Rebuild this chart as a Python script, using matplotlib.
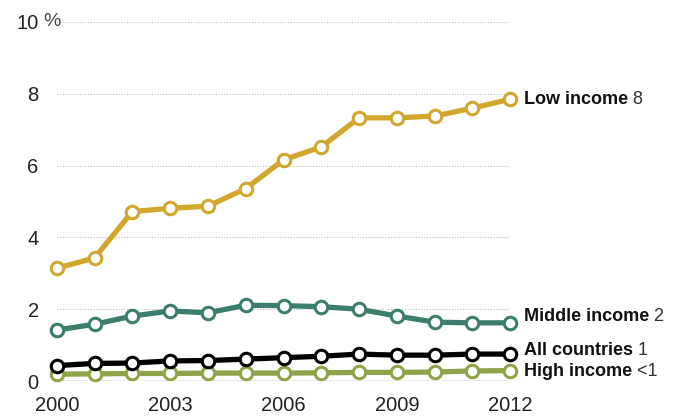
import matplotlib.pyplot as plt

years = list(range(2000, 2013))
low_income = [3.14, 3.43, 4.72, 4.81, 4.87, 5.36, 6.16, 6.52, 7.33, 7.33, 7.38, 7.60, 7.85]
middle_income = [1.42, 1.58, 1.81, 1.95, 1.90, 2.11, 2.10, 2.07, 2.00, 1.81, 1.64, 1.62, 1.62]
all_countries = [0.43, 0.49, 0.50, 0.56, 0.57, 0.61, 0.65, 0.69, 0.75, 0.72, 0.72, 0.75, 0.75]
high_income = [0.19, 0.20, 0.21, 0.21, 0.22, 0.22, 0.22, 0.23, 0.24, 0.24, 0.25, 0.28, 0.29]

series = [
    ("High income", "<1", high_income, "#8fa348", 0.26),
    ("All countries", "1", all_countries, "#000000", 0.84),
    ("Middle income", "2", middle_income, "#3c7e6e", 1.81),
    ("Low income", "8", low_income, "#d3a62e", 7.85),
]

y_ticks = [0, 2, 4, 6, 8, 10]
x_ticks = [2000, 2003, 2006, 2009, 2012]

plt.rcParams["font.family"] = ["Liberation Sans Narrow", "Liberation Sans", "DejaVu Sans"]

fig = plt.figure(figsize=(6.84, 4.17), dpi=100)
ax = fig.add_axes([0.083, 0.0863, 0.663, 0.861])

for name, value, data, color, label_y in series:
    ax.plot(years, data, color=color, lw=3.8, marker="o", ms=9, mfc="white",
            mec=color, mew=2.2, clip_on=False, zorder=3)
    t = ax.annotate(name, xy=(2012, label_y), xytext=(10, 0), textcoords="offset points",
                    fontsize=13, fontweight="bold", va="center", ha="left",
                    color="#111111", annotation_clip=False)
    ax.annotate(" " + value, xy=(1, 0.5), xycoords=t, va="center", ha="left",
                fontsize=13, color="#333333")

ax.set_xlim(2000, 2012)
ax.set_ylim(0, 10)
ax.set_yticks(y_ticks)
ax.set_yticklabels([str(v) for v in y_ticks])
ax.set_xticks(x_ticks)
ax.set_xticklabels([str(v) for v in x_ticks])
ax.tick_params(length=0, labelsize=14.5, colors="#222222")
ax.tick_params(axis="y", pad=13)
ax.tick_params(axis="x", pad=11)
ax.text(-0.029, 10, "%", transform=ax.get_yaxis_transform(), ha="left", va="center",
        fontsize=14, color="#444444")

for v in y_ticks[1:]:
    ax.axhline(v, color="#bbbbbb", lw=0.8, ls=(0, (1, 1.5)), zorder=1)
ax.axhline(0, color="#999999", lw=1.0, zorder=2)

for s in ax.spines.values():
    s.set_visible(False)

fig.savefig("out.png", dpi=100)
